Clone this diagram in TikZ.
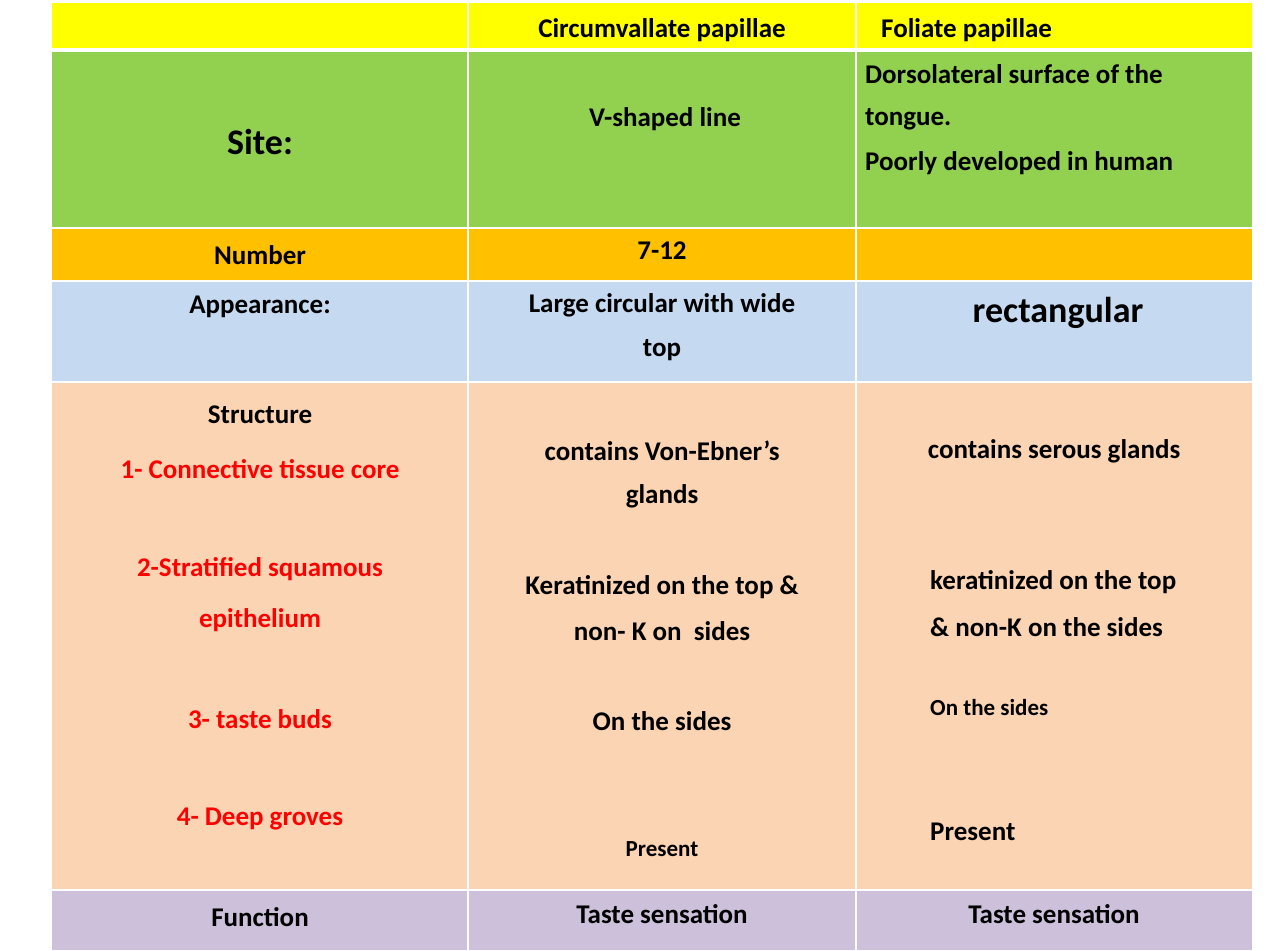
\documentclass[tikz,border=0pt]{standalone}
\usepackage{fontspec}
\setmainfont{Carlito}
\begin{document}
\begin{tikzpicture}[x=1pt,y=-1pt,
 cell/.style={draw=none},
 t/.style={font=\bfseries\fontsize{27}{32}\selectfont,inner sep=0pt},
 tl/.style={t,anchor=west},
 big/.style={font=\bfseries\fontsize{36}{40}\selectfont,inner sep=0pt},
 sm/.style={font=\bfseries\fontsize{23}{28}\selectfont,inner sep=0pt},
 red/.style={text=red}]
\useasboundingbox (0,0) rectangle (1284,950);
\fill[white] (0,0) rectangle (1284,950);
\definecolor{cy}{HTML}{FFFF00}\definecolor{cg}{HTML}{92D050}\definecolor{co}{HTML}{FFC000}
\definecolor{cb}{HTML}{C5D9F1}\definecolor{cp}{HTML}{FBD4B4}\definecolor{cv}{HTML}{CCC0DA}
\foreach \ya/\yb/\c in {3/48/cy,52/227/cg,229/280/co,282/381/cb,383/889/cp,891/950/cv}{
 \fill[\c] (52,\ya) rectangle (467,\yb);
 \fill[\c] (469,\ya) rectangle (855,\yb);
 \fill[\c] (857,\ya) rectangle (1252,\yb);}
\node[t] (h1) at (662,30) {Circumvallate papillae};
\node[tl] (h2) at (881,30) {Foliate papillae};
\node[big] (s) at (260,142) {Site:};
\node[t] (s1) at (665,119) {V-shaped line};
\node[tl] (s2a) at (865,74) {Dorsolateral surface of the};
\node[tl] (s2b) at (865,119) {tongue.};
\node[tl] (s2c) at (865,163) {Poorly developed in human};
\node[t] (n) at (260,255) {Number};
\node[t] (n1) at (662,251) {7-12};
\node[t] (a) at (260,307) {Appearance:};
\node[t] (a1) at (662,305) {Large circular with wide};
\node[t] (a1b) at (662,350) {top};
\node[big] (a2) at (1058,313) {rectangular};
\node[t] (st) at (260,415) {Structure};
\node[t,red] (r1) at (260,469) {1- Connective tissue core};
\node[t,red] (r2) at (260,569) {2-Stratified squamous};
\node[t,red] (r2b) at (260,620) {epithelium};
\node[t,red] (r3) at (260,719) {3- taste buds};
\node[t,red] (r4) at (260,819) {4- Deep groves};
\node[t] (m1) at (662,451) {contains Von-Ebner’s};
\node[t] (m1b) at (662,496) {glands};
\node[t] (m2) at (662,587) {Keratinized on the top \&};
\node[t] (m2b) at (662,631) {non- K on\ \ sides};
\node[t] (m3) at (662,721) {On the sides};
\node[sm] (m4) at (662,849) {Present};
\node[t] (f1) at (1054,451) {contains serous glands};
\node[tl] (f2) at (930,582) {keratinized on the top};
\node[tl] (f2b) at (930,627) {\& non-K on the sides};
\node[sm,anchor=west] (f3) at (930,708) {On the sides};
\node[tl] (f4) at (930,832) {Present};
\node[t] (fn) at (260,917) {Function};
\node[t] (fn1) at (662,914) {Taste sensation};
\node[t] (fn2) at (1054,914) {Taste sensation};
\end{tikzpicture}
\end{document}
